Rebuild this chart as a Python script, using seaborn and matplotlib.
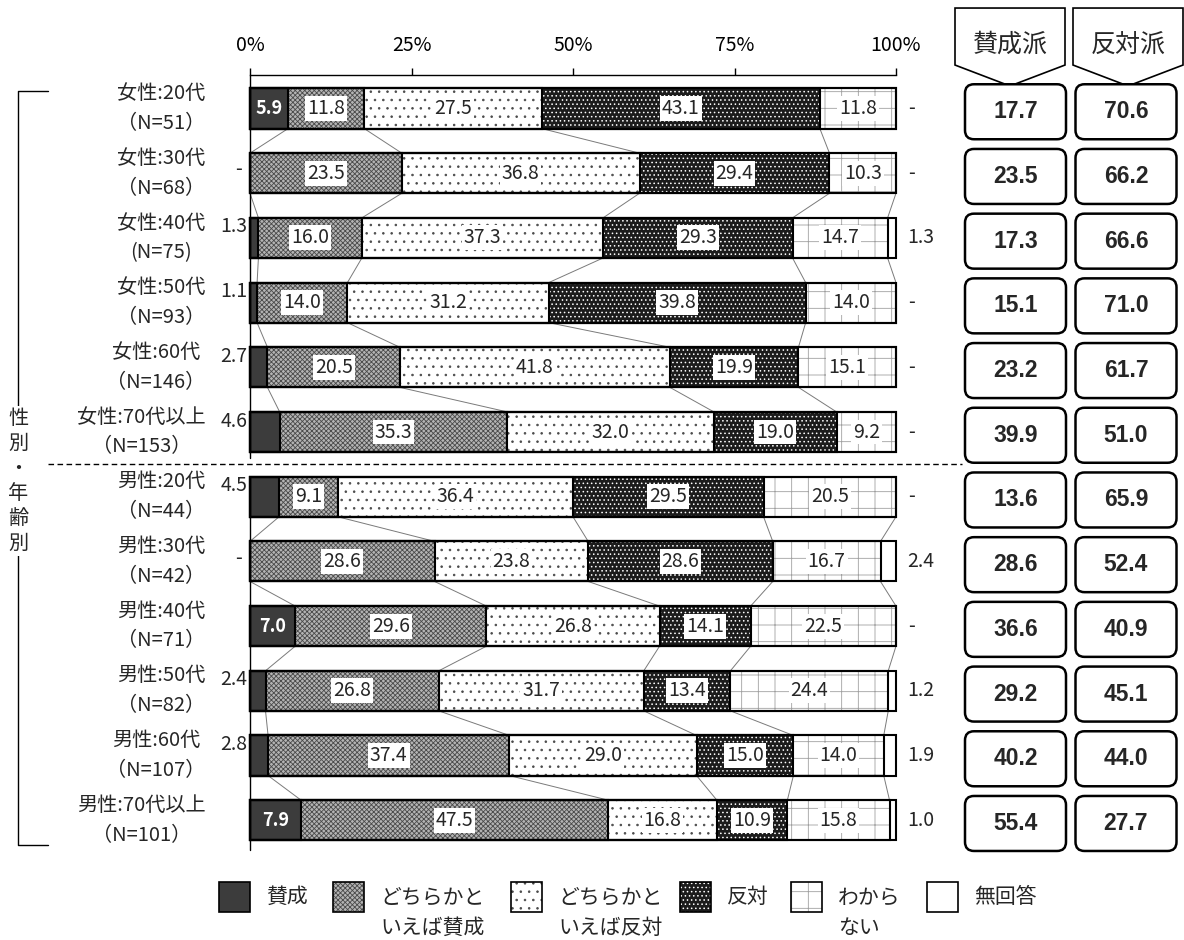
import numpy as np
import pandas as pd
import seaborn as sns
import matplotlib.pyplot as plt
import matplotlib.transforms as mtransforms
from matplotlib.patches import Rectangle, FancyBboxPatch, Polygon
from matplotlib.lines import Line2D

# data
groups = ["女性:20代\n（N=51）", "女性:30代\n（N=68）", "女性:40代\n(N=75)",
          "女性:50代\n（N=93）", "女性:60代\n（N=146）", "女性:70代以上\n（N=153）",
          "男性:20代\n（N=44）", "男性:30代\n（N=42）", "男性:40代\n（N=71）",
          "男性:50代\n（N=82）", "男性:60代\n（N=107）", "男性:70代以上\n（N=101）"]
categories = ["賛成", "どちらかと\nいえば賛成", "どちらかと\nいえば反対", "反対", "わから\nない", "無回答"]
sansei = [5.9, 0.0, 1.3, 1.1, 2.7, 4.6, 4.5, 0.0, 7.0, 2.4, 2.8, 7.9]
dochira_sansei = [11.8, 23.5, 16.0, 14.0, 20.5, 35.3, 9.1, 28.6, 29.6, 26.8, 37.4, 47.5]
dochira_hantai = [27.5, 36.8, 37.3, 31.2, 41.8, 32.0, 36.4, 23.8, 26.8, 31.7, 29.0, 16.8]
hantai = [43.1, 29.4, 29.3, 39.8, 19.9, 19.0, 29.5, 28.6, 14.1, 13.4, 15.0, 10.9]
wakaranai = [11.8, 10.3, 14.7, 14.0, 15.1, 9.2, 20.5, 16.7, 22.5, 24.4, 14.0, 15.8]
mukaitou = [0.0, 0.0, 1.3, 0.0, 0.0, 0.0, 0.0, 2.4, 0.0, 1.2, 1.9, 1.0]
sansei_ha = [17.7, 23.5, 17.3, 15.1, 23.2, 39.9, 13.6, 28.6, 36.6, 29.2, 40.2, 55.4]
hantai_ha = [70.6, 66.2, 66.6, 71.0, 61.7, 51.0, 65.9, 52.4, 40.9, 45.1, 44.0, 27.7]
summary_heads = ["賛成派", "反対派"]
x_ticks = [0, 25, 50, 75, 100]

# face colour, hatch, hatch colour per category
styles = [("#3c3c3c", None, "#3c3c3c"),
          ("#b4b4b4", "xxxxxxx", "#4a4a4a"),
          ("white", "..", "#4a4a4a"),
          ("#1c1c1c", "....", "white"),
          ("white", "+", "#a0a0a0"),
          ("white", None, "white")]

W, H = 1184, 940
sns.set_style("white")
plt.rcParams["font.family"] = ["Noto Sans CJK JP", "DejaVu Sans"]
plt.rcParams["hatch.linewidth"] = 0.6

vals = np.array([sansei, dochira_sansei, dochira_hantai, hantai, wakaranai, mukaitou]).T
pct = vals / vals.sum(axis=1, keepdims=True) * 100  # 100% stacked
cum = np.cumsum(pct, axis=1)
df = pd.DataFrame(cum, columns=[f"c{k}" for k in range(6)])
df["group"] = groups

fig = plt.figure(figsize=(W / 100, H / 100), dpi=100)
ax_box = [250 / W, 90 / H, 646 / W, 775 / H]
ax = fig.add_axes(ax_box)
BAR_H = 0.62

# stacked bars: cumulative layers, longest first
for k in reversed(range(6)):
    n0 = len(ax.patches)
    sns.barplot(data=df, x=f"c{k}", y="group", orient="h", color=styles[k][0],
                width=BAR_H, saturation=1, errorbar=None, ax=ax)
    fc, hatch, hc = styles[k]
    for p in ax.patches[n0:]:
        p.set_facecolor(fc)
        p.set_edgecolor(hc)
        p.set_linewidth(0)
        p.set_hatch(hatch)
        p.set_clip_on(False)
# outlines
for k in range(6):
    n0 = len(ax.patches)
    sns.barplot(data=df, x=f"c{k}", y="group", orient="h", color="black",
                width=BAR_H, saturation=1, errorbar=None, ax=ax)
    for p in ax.patches[n0:]:
        p.set_facecolor("none")
        p.set_edgecolor("black")
        p.set_linewidth(1.5)
        p.set_clip_on(False)

ax.set_xlim(0, 100)
y_top, y_bot = -0.518, 11.46
ax.set_ylim(y_bot, y_top)
ax.set_xlabel("")
ax.set_ylabel("")

# connectors between bars inside each group
for block in (range(0, 5), range(6, 11)):
    for i in block:
        for k in range(5):
            ax.plot([cum[i, k], cum[i + 1, k]], [i + BAR_H / 2, i + 1 - BAR_H / 2],
                    color="#7a7a7a", lw=0.7, zorder=0.5)

# value labels
for i in range(len(groups)):
    left = 0.0
    for k in range(6):
        v = vals[i, k]
        mid = left + pct[i, k] / 2
        if k == 0:
            if v >= 5:
                ax.text(mid, i, f"{v:.1f}", ha="center", va="center", color="white",
                        fontsize=13, fontweight="bold")
            elif v == 0:
                ax.text(-1.2, i - 0.05, "-", ha="right", va="center", fontsize=14, clip_on=False)
            else:
                ax.text(-0.4, i - 0.17, f"{v:.1f}", ha="right", va="center", fontsize=14,
                        clip_on=False)
        elif k == 5:
            ax.text(101.8, i, "-" if v == 0 else f"{v:.1f}", ha="left", va="center",
                    fontsize=14, clip_on=False)
        else:
            ax.text(mid, i, f"{v:.1f}", ha="center", va="center", fontsize=14,
                    bbox=dict(boxstyle="square,pad=0.1", fc="white", ec="none"))
        left += pct[i, k]

# axes styling
ax.xaxis.set_ticks_position("top")
ax.set_xticks(x_ticks)
ax.set_xticklabels([f"{t}%" for t in x_ticks])
ax.tick_params(axis="x", top=True, bottom=False, labeltop=True, labelbottom=False,
               direction="out", length=5, width=1, pad=9, labelsize=14, colors="black")
ax.tick_params(axis="y", length=0, pad=32, labelsize=14.5)
for lbl in ax.get_yticklabels():
    lbl.set_multialignment("center")
    lbl.set_linespacing(1.55)
    lbl.set_va("center")
for s in ("left", "right", "bottom"):
    ax.spines[s].set_visible(False)
ax.spines["top"].set_color("black")
ax.spines["top"].set_linewidth(1)
ax.plot([0, 0], [y_top, 5.4], color="black", lw=1, clip_on=False)
ax.plot([0, 0], [5.7, y_bot], color="black", lw=1, clip_on=False)

# left bracket, group caption, divider
trans = mtransforms.blended_transform_factory(fig.transFigure, ax.transData)
fig.add_artist(Line2D([48 / W, 18 / W, 18 / W, 48 / W], [-0.27, -0.27, 11.38, 11.38],
                      transform=trans, color="black", lw=1))
fig.add_artist(Line2D([48 / W, 962 / W], [5.5, 5.5], transform=trans, color="black",
                      lw=1, ls=(0, (4, 2.5))))
fig.text(18 / W, 5.76, "性\n別\n・\n年\n齢\n別", transform=trans, ha="center", va="center",
         fontsize=14.5, linespacing=1.25,
         bbox=dict(boxstyle="square,pad=0.1", fc="white", ec="none"))

# summary columns on the right
ax2 = fig.add_axes([955 / W, ax_box[1], 229 / W, ax_box[3]], sharey=ax)
ax2.set_xlim(0, 229)
ax2.axis("off")
px_per_row = (ax_box[3] * H) / (y_bot - y_top)
head_centers = [55.0, 173.0]
col_centers = [60.5, 171.0]
for c, head in zip(head_centers, summary_heads):
    x0, x1 = c - 55, c + 55
    ax2.add_patch(Polygon([(x0, -1.553), (x1, -1.553), (x1, -0.672), (c, -0.348), (x0, -0.672)],
                          closed=True, fc="white", ec="black", lw=1.2, clip_on=False))
    ax2.text(c, -0.98, head, ha="center", va="center", fontsize=18, clip_on=False)
for i in range(len(groups)):
    for c, v in zip(col_centers, (sansei_ha[i], hantai_ha[i])):
        ax2.add_patch(FancyBboxPatch((c - 50.5, i + 0.05 - 0.425), 101, 0.85,
                                     boxstyle="round,pad=0,rounding_size=9",
                                     mutation_aspect=1 / px_per_row,
                                     fc="white", ec="black", lw=1.8, clip_on=False))
        ax2.text(c, i + 0.05, f"{v:.1f}", ha="center", va="center", fontsize=16.5,
                 fontweight="bold", family=["Liberation Sans Narrow", "Liberation Sans"])

# legend
leg_x = [219, 333, 511, 680, 791, 927]
for k, (lx, name) in enumerate(zip(leg_x, categories)):
    fc, hatch, hc = styles[k]
    r = (lx / W, 1 - 912 / H)
    fig.add_artist(Rectangle(r, 31 / W, 30 / H, transform=fig.transFigure,
                             fc=fc, ec=hc, lw=0, hatch=hatch))
    fig.add_artist(Rectangle(r, 31 / W, 30 / H, transform=fig.transFigure,
                             fc="none", ec="black", lw=1.2))
    nlines = name.count("\n") + 1
    fig.text((lx + 47) / W, 1 - (897 + (nlines - 1) * 15.5) / H, name, ha="left",
             va="center", fontsize=15, linespacing=1.5)

fig.savefig("out.png", dpi=100)
